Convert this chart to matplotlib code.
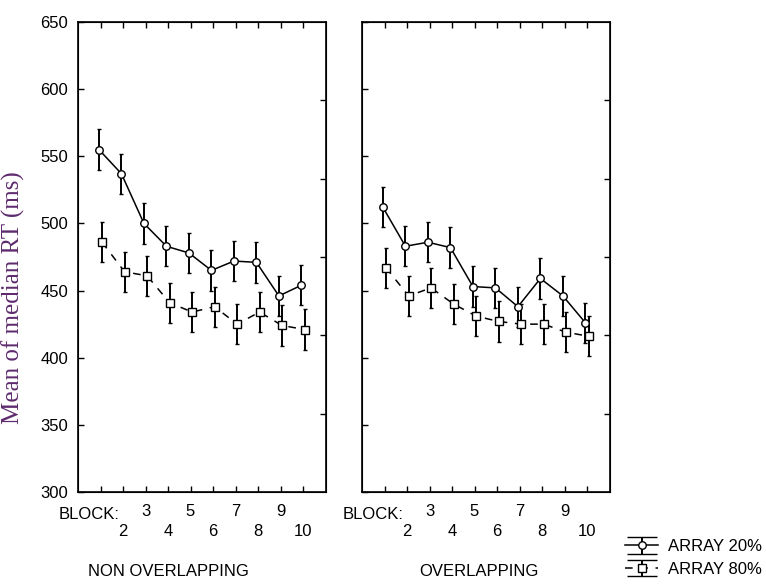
import matplotlib
matplotlib.use("Agg")
import matplotlib.pyplot as plt
import numpy as np

blocks = [1, 2, 3, 4, 5, 6, 7, 8, 9, 10]
panels = ["NON OVERLAPPING", "OVERLAPPING"]
series = ["ARRAY 20%", "ARRAY 80%"]

non_overlap_20 = [555, 537, 500, 483, 478, 465, 472, 471, 446, 454]
non_overlap_20_err = [15, 15, 15, 15, 15, 15, 15, 15, 15, 15]
non_overlap_80 = [486, 464, 461, 441, 434, 438, 425, 434, 424, 421]
non_overlap_80_err = [15, 15, 15, 15, 15, 15, 15, 15, 15, 15]

overlap_20 = [512, 483, 486, 482, 453, 452, 438, 459, 446, 426]
overlap_20_err = [15, 15, 15, 15, 15, 15, 15, 15, 15, 15]
overlap_80 = [467, 446, 452, 440, 431, 427, 425, 425, 419, 416]
overlap_80_err = [15, 15, 15, 15, 15, 15, 15, 15, 15, 15]

yticks = [300, 350, 400, 450, 500, 550, 600, 650]

plt.rcParams['font.family'] = ['Liberation Sans', 'DejaVu Sans']

fig = plt.figure(figsize=(7.66, 5.84), dpi=100)
W, H = 766, 584

def add_ax(x0, x1, y0, y1):
    return fig.add_axes([x0 / W, 1 - y1 / H, (x1 - x0) / W, (y1 - y0) / H])

ax_l = add_ax(78, 325.5, 22, 492)
ax_r = add_ax(362, 609.5, 22, 492)

data = [
    (non_overlap_20, non_overlap_20_err, non_overlap_80, non_overlap_80_err),
    (overlap_20, overlap_20_err, overlap_80, overlap_80_err),
]

x = np.array(blocks, dtype=float)
style20 = dict(color='black', lw=1.1, elinewidth=1.4, capthick=1.2, marker='o', ms=5.4,
               mfc='white', mec='black', mew=1.0, linestyle='-', zorder=3)
style80 = dict(color='black', lw=1.1, elinewidth=1.4, capthick=1.2, marker='s', ms=5.2,
               mfc='white', mec='black', mew=1.0, linestyle=(0, (5, 5)), zorder=3)

for i, (ax, (m20, e20, m80, e80)) in enumerate(zip([ax_l, ax_r], data)):
    ax.errorbar(x - 0.07, m20, yerr=e20, capsize=1.6, **style20)
    ax.errorbar(x + 0.07, m80, yerr=e80, capsize=1.6, **style80)
    ax.set_xlim(0, 11)
    ax.set_ylim(300, 650)
    ax.set_yticks(yticks)
    ax.set_xticks(blocks)
    labels = []
    for b in blocks:
        if b == 1:
            labels.append('')
        elif b % 2 == 1:
            labels.append(str(b))
        else:
            labels.append('\n' + str(b))
    ax.set_xticklabels(labels, linespacing=1.4)
    ax.tick_params(axis='x', direction='in', length=4, width=1.0, top=True,
                   labelsize=12, pad=8.5)
    ax.tick_params(axis='y', direction='in', length=4, width=1.0, right=False,
                   labelsize=12, pad=7)
    if i == 1:
        ax.tick_params(axis='y', labelleft=False)
    for s in ax.spines.values():
        s.set_linewidth(1.2)
    ax.text(1.85, -0.031, 'BLOCK:', transform=ax.get_xaxis_transform(),
            ha='right', va='top', fontsize=12)
    tw = ax.twinx()
    tw.set_ylim(0, 6)
    tw.set_yticks([1, 2, 3, 4, 5])
    tw.tick_params(axis='y', direction='in', length=4, width=1.0, labelright=False)

# legend proxies with wide caps (no data drawn)
p20 = ax_l.errorbar([np.nan], [np.nan], yerr=[1], capsize=10.5, **style20)
p80 = ax_l.errorbar([np.nan], [np.nan], yerr=[1], capsize=10.5, **style80)

ax_l.set_ylabel('Mean of median RT (ms)', family=['Liberation Serif', 'DejaVu Serif'],
                fontsize=18, color='#5e2b6e')
ax_l.yaxis.set_label_coords(-0.215, 0.413)

fig.text(168 / W, 1 - 572 / H, 'NON OVERLAPPING', ha='center', va='center', fontsize=12)
fig.text(479 / W, 1 - 572 / H, 'OVERLAPPING', ha='center', va='center', fontsize=12)

fig.legend([p20, p80], series, loc='center left', bbox_to_anchor=(625 / W, 1 - 558 / H),
           frameon=False, fontsize=12, handlelength=2.0, handletextpad=0.6,
           labelspacing=0.45, borderpad=0, borderaxespad=0, numpoints=1)

fig.savefig('out.png', dpi=100)
